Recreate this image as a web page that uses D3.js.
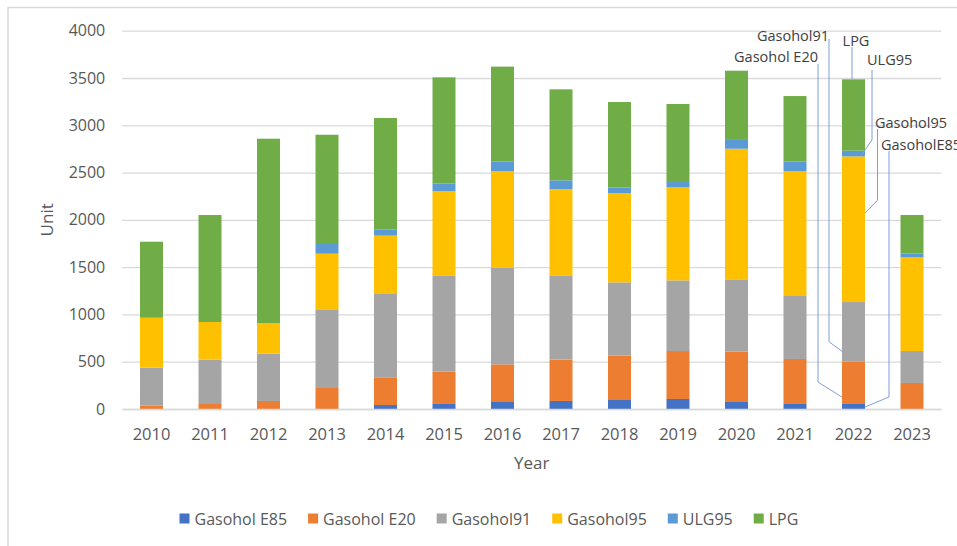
<!DOCTYPE html>
<html>
<head>
<meta charset="utf-8">
<script src="https://cdn.jsdelivr.net/npm/d3@7"></script>
<style>
  html, body { margin: 0; padding: 0; background: #fff; }
  svg { display: block; font-family: "Open Sans", sans-serif; }
</style>
</head>
<body>
<div id="chart"></div>
<script>
const years = [2010, 2011, 2012, 2013, 2014, 2015, 2016, 2017, 2018, 2019, 2020, 2021, 2022, 2023];
const seriesNames = ["Gasohol E85", "Gasohol E20", "Gasohol91", "Gasohol95", "ULG95", "LPG"];
const gasoholE85 = [0, 0, 0, 0, 42, 60, 74, 85, 95, 106, 74, 60, 60, 0];
const gasoholE20 = [35, 53, 85, 222, 293, 335, 398, 437, 469, 507, 532, 469, 440, 275];
const gasohol91 = [402, 469, 500, 825, 881, 1018, 1022, 891, 775, 747, 765, 666, 631, 338];
const gasohol95 = [528, 398, 324, 595, 617, 892, 1019, 912, 945, 983, 1381, 1318, 1540, 990];
const ulg95 = [0, 0, 0, 113, 63, 81, 102, 93, 59, 57, 102, 102, 60, 39];
const lpg = [804, 1131, 1949, 1145, 1181, 1121, 1005, 962, 903, 825, 723, 694, 755, 409];
const yTicks = [0, 500, 1000, 1500, 2000, 2500, 3000, 3500, 4000];
const colors = ["#4472C4", "#ED7D31", "#A5A5A5", "#FFC000", "#5B9BD5", "#70AD47"];

// callouts on the 2022 bar: series, point within segment (0 bottom .. 1 top)
const calloutYear = 2022;
const callouts = [
  {name: "Gasohol91",   series: 2, t: 0.15},
  {name: "Gasohol E20", series: 1, t: 0.15},
  {name: "LPG",         series: 5, t: 1},
  {name: "ULG95",       series: 4, t: 0.1},
  {name: "Gasohol95",   series: 3, t: 0.61},
  {name: "GasoholE85",  series: 0, t: 0.35}
];

const W = 957, H = 546;
const margin = {left: 122.25, right: 957 - 941.25, top: 30.7, bottom: 546 - 409};

const table = years.map((y, i) => ({
  year: y,
  "Gasohol E85": gasoholE85[i],
  "Gasohol E20": gasoholE20[i],
  "Gasohol91": gasohol91[i],
  "Gasohol95": gasohol95[i],
  "ULG95": ulg95[i],
  "LPG": lpg[i]
}));
const stacked = d3.stack().keys(seriesNames)(table);

const x = d3.scaleBand()
  .domain(years)
  .range([margin.left, W - margin.right])
  .paddingInner(0.607)
  .paddingOuter(0.3035);
const y = d3.scaleLinear().domain([0, 4000]).range([H - margin.bottom, margin.top]);
const color = d3.scaleOrdinal().domain(seriesNames).range(colors);

const svg = d3.select("#chart").append("svg")
  .attr("width", W).attr("height", H)
  .attr("viewBox", `0 0 ${W} ${H}`);

svg.append("rect").attr("width", W).attr("height", H).attr("fill", "#fff");
// chart frame
svg.append("rect")
  .attr("x", 8).attr("y", 7.5).attr("width", W + 20).attr("height", H + 20)
  .attr("fill", "none").attr("stroke", "#d9d9d9").attr("stroke-width", 1.5);

// gridlines
svg.append("g")
  .attr("transform", `translate(${margin.left},0)`)
  .call(d3.axisLeft(y).tickValues(yTicks).tickSize(-(W - margin.left - margin.right)).tickFormat(""))
  .call(g => g.select(".domain").remove())
  .call(g => g.selectAll("line").attr("stroke", "#d9d9d9").attr("stroke-width", 1.3));

// y labels
svg.append("g")
  .attr("transform", `translate(${margin.left},0)`)
  .call(d3.axisLeft(y).tickValues(yTicks).tickFormat(d3.format("d")).tickSize(0).tickPadding(17))
  .call(g => g.select(".domain").remove())
  .call(g => g.selectAll("text").attr("fill", "#595959").style("font-size", "16px")
    .style("font-family", "'Open Sans', sans-serif"));

// bars
svg.append("g").selectAll("g")
  .data(stacked)
  .join("g")
  .attr("fill", d => color(d.key))
  .selectAll("rect")
  .data(d => d)
  .join("rect")
  .attr("x", d => x(d.data.year))
  .attr("width", x.bandwidth())
  .attr("y", d => y(d[1]))
  .attr("height", d => y(d[0]) - y(d[1]));

// x axis
svg.append("g")
  .attr("transform", `translate(0,${y(0)})`)
  .call(d3.axisBottom(x).tickSize(0).tickPadding(19))
  .call(g => g.select(".domain").attr("stroke", "#d9d9d9").attr("stroke-width", 1.3))
  .call(g => g.selectAll("text").attr("fill", "#595959").style("font-size", "16.5px")
    .style("font-family", "'Open Sans', sans-serif"));

// axis titles
svg.append("text")
  .attr("x", (margin.left + W - margin.right) / 2).attr("y", 469)
  .attr("text-anchor", "middle").attr("fill", "#595959").style("font-size", "17px")
  .text("Year");
svg.append("text")
  .attr("transform", `translate(53,${(y(0) + y(4000)) / 2}) rotate(-90)`)
  .attr("text-anchor", "middle").attr("fill", "#595959").style("font-size", "17px")
  .text("Unit");

// callouts
const bx = x(calloutYear), bw = x.bandwidth();
const cl = svg.append("g");
const lineColor = "#7f9fdc";
callouts.forEach(c => {
  const seg = stacked[c.series][years.indexOf(calloutYear)];
  const py = y(seg[0] + c.t * (seg[1] - seg[0]));
  let lx, pts, px;
  if (c.name === "Gasohol91") {
    px = bx + 2; lx = bx - 13;
    pts = [[lx, 39], [lx, py - 11], [px, py]];
    cl.append("text").attr("x", lx).attr("y", 35).attr("text-anchor", "end");
  } else if (c.name === "Gasohol E20") {
    px = bx; lx = bx - 24;
    pts = [[lx, 64], [lx, py - 15], [px, py]];
    cl.append("text").attr("x", lx).attr("y", 56).attr("text-anchor", "end");
  } else if (c.name === "LPG") {
    px = bx + 10;
    pts = [[px, 47], [px, py]];
    cl.append("text").attr("x", px + 4).attr("y", 40).attr("text-anchor", "middle");
  } else if (c.name === "ULG95") {
    px = bx + 19; lx = bx + 30;
    pts = [[lx, 70], [lx, py - 16], [px, py]];
    cl.append("text").attr("x", bx + 25).attr("y", 59).attr("text-anchor", "start");
  } else if (c.name === "Gasohol95") {
    px = bx + bw; lx = bx + 35.5;
    pts = [[lx, 129], [lx, py - 13], [px, py]];
    cl.append("text").attr("x", bx + 33).attr("y", 122).attr("text-anchor", "start");
  } else {
    px = bx + bw; lx = bx + 47;
    pts = [[lx, 151], [lx, py - 10], [px, py]];
    cl.append("text").attr("x", bx + 39).attr("y", 144).attr("text-anchor", "start");
  }
  cl.select("text:last-of-type")
    .attr("dominant-baseline", "central")
    .attr("fill", "#404040").style("font-size", "14.5px")
    .text(c.name);
  cl.append("path")
    .attr("d", d3.line()(pts))
    .attr("fill", "none").attr("stroke", lineColor).attr("stroke-width", 1);
});

// legend
const lg = svg.append("g").attr("transform", "translate(179.5,518.5)");
let lxPos = 0;
seriesNames.forEach(name => {
  const item = lg.append("g").attr("transform", `translate(${lxPos},0)`);
  item.append("rect").attr("x", 0).attr("y", -5).attr("width", 10).attr("height", 10).attr("fill", color(name));
  const t = item.append("text").attr("x", 15).attr("dominant-baseline", "central")
    .attr("fill", "#595959").style("font-size", "16px").text(name);
  lxPos += 15 + t.node().getComputedTextLength() + 21;
});
</script>
</body>
</html>
